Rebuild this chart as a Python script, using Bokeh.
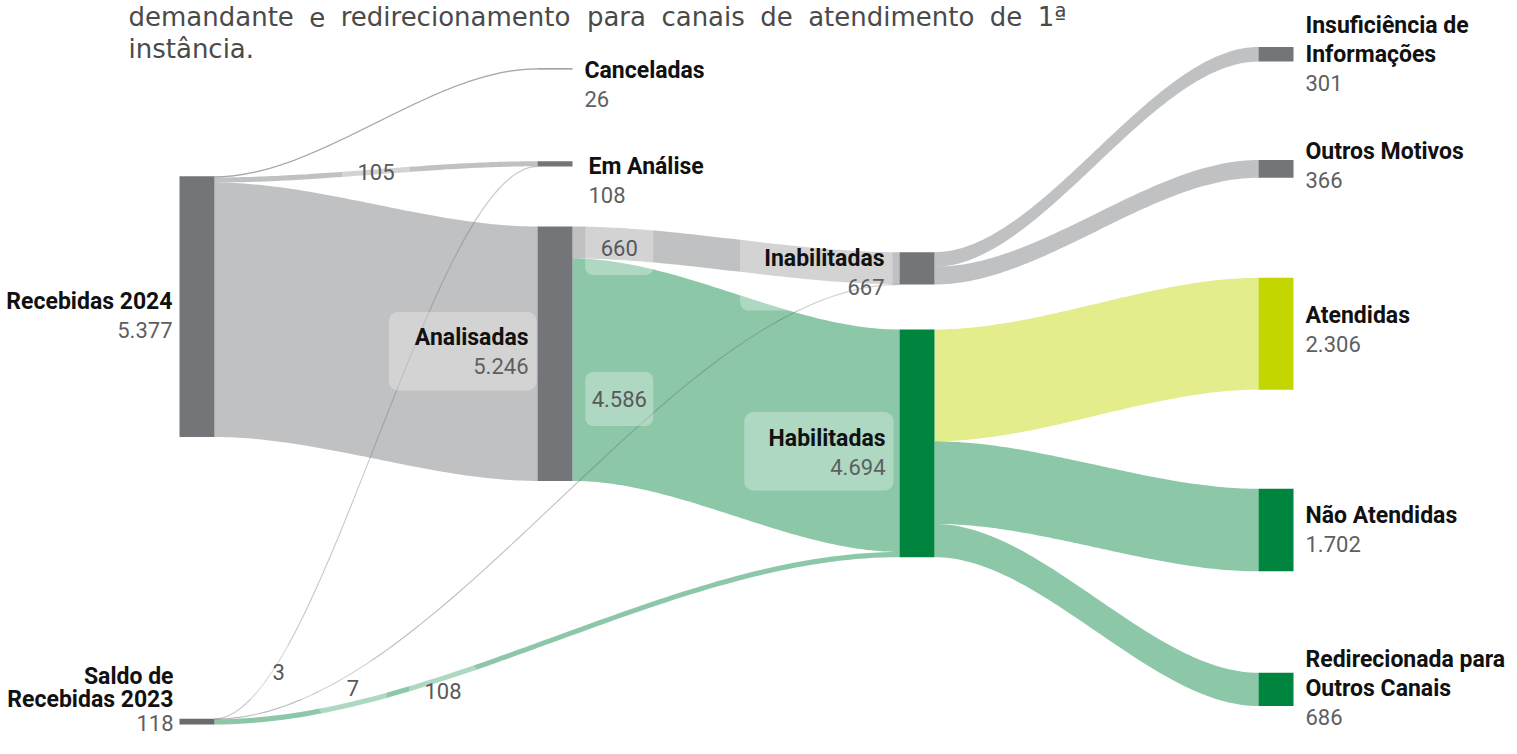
import numpy as np
from bokeh.plotting import figure
from bokeh.models import Range1d, ColumnDataSource
from bokeh.core.properties import value
from bokeh.embed import file_html
from bokeh.resources import INLINE

# ---------------- data ----------------
node_ids = ["rec24", "saldo23", "canc", "em_anal", "analisadas", "inab", "hab",
            "insuf", "outros", "atend", "nao_atend", "redir"]
node_names = ["Recebidas 2024", "Saldo de\nRecebidas 2023", "Canceladas", "Em Análise",
              "Analisadas", "Inabilitadas", "Habilitadas", "Insuficiência de\nInformações",
              "Outros Motivos", "Atendidas", "Não Atendidas", "Redirecionada para\nOutros Canais"]
node_values = [5377, 118, 26, 108, 5246, 667, 4694, 301, 366, 2306, 1702, 686]

link_source = ["rec24", "rec24", "rec24", "saldo23", "saldo23", "saldo23",
               "analisadas", "analisadas", "inab", "inab", "hab", "hab", "hab"]
link_target = ["canc", "em_anal", "analisadas", "em_anal", "inab", "hab",
               "inab", "hab", "insuf", "outros", "atend", "nao_atend", "redir"]
link_values = [26, 105, 5246, 3, 7, 108, 660, 4586, 301, 366, 2306, 1702, 686]
link_labeled = [False, True, False, True, True, True, True, True,
                False, False, False, False, False]

intro_line1 = ["demandante", "e", "redirecionamento", "para", "canais", "de",
               "atendimento", "de", "1ª"]
intro_line2 = "instância."

# ---------------- layout / style ----------------
GREY, GREEN, LIME = "#737578", "#00853f", "#c4d600"
node_color = {"rec24": GREY, "saldo23": "#6a6b6d", "canc": "#858688", "em_anal": GREY,
              "analisadas": GREY, "inab": GREY, "hab": GREEN, "insuf": GREY,
              "outros": GREY, "atend": LIME, "nao_atend": GREEN, "redir": GREEN}
col_x = [179, 537, 899, 1258]
node_col = {"rec24": 0, "saldo23": 0, "canc": 1, "em_anal": 1, "analisadas": 1,
            "inab": 2, "hab": 2, "insuf": 3, "outros": 3, "atend": 3,
            "nao_atend": 3, "redir": 3}
node_top = {"rec24": 175.7, "saldo23": 718.3, "canc": 67.7, "em_anal": 160.7,
            "analisadas": 226, "inab": 251.7, "hab": 329, "insuf": 46.5,
            "outros": 159.5, "atend": 277.3, "nao_atend": 488.3, "redir": 672.3}
NODE_W = 35
K = 0.0485          # px per unit
CURVE = 0.33
LINK_ALPHA = 0.45

# label placement: side ('L' = right-aligned left of node, 'R' = right of node), gap, dy, line height
label_side = {"rec24": ("L", 7, 9, 28.5), "saldo23": ("L", 6, -22, 23),
              "canc": ("R", 12, 16, 28.5), "em_anal": ("R", 16, 17, 28.5),
              "analisadas": ("L", 9, -1.5, 28.5), "inab": ("L", 15, 4, 28.5),
              "hab": ("L", 14, 9, 28.5), "insuf": ("R", 12, 0, 28.5),
              "outros": ("R", 12, -3, 28.5), "atend": ("R", 12, -4, 28.5),
              "nao_atend": ("R", 12, 0, 28.5), "redir": ("R", 12, -1, 28.5)}
boxed = {"analisadas", "inab", "hab"}
# link label placement: bezier parameter, dx, dy
link_label_pos = {1: (0.5, 0, 0), 3: (0.2, 0, 11), 4: (0.2, 2, 14), 5: (0.33, 3, 12),
                  6: (0.15, -2, 4), 7: (0.15, -2, 25)}

LABEL_FONT = value("Roboto")
FS_NAME, FS_VAL = "23px", "22px"


def fmt(v):
    return f"{v:,}".replace(",", ".")


def text_w(s, size, bold=False):
    w = 0.0
    for ch in s:
        if ch.isdigit():
            w += 0.562
        elif ch in ".,":
            w += 0.26
        elif ch == " ":
            w += 0.25
        elif ch in "iljI":
            w += 0.26
        elif ch in "tfr":
            w += 0.35
        elif ch.isupper():
            w += 0.66
        else:
            w += 0.54
    return w * size * (1.03 if bold else 1.0)


def bez(p0, p1, p2, p3, s):
    return ((1 - s) ** 3) * p0 + 3 * ((1 - s) ** 2) * s * p1 + 3 * (1 - s) * s * s * p2 + s ** 3 * p3


def rounded_rect(x0, y0, x1, y1, r):
    xs, ys = [], []
    corners = [(x1 - r, y0 + r, -np.pi / 2, 0), (x1 - r, y1 - r, 0, np.pi / 2),
               (x0 + r, y1 - r, np.pi / 2, np.pi), (x0 + r, y0 + r, np.pi, 1.5 * np.pi)]
    for cx, cy, a0, a1 in corners:
        a = np.linspace(a0, a1, 8)
        xs += list(cx + r * np.cos(a))
        ys += list(cy + r * np.sin(a))
    return xs, ys


val = dict(zip(node_ids, node_values))
name = dict(zip(node_ids, node_names))
h = {n: val[n] * K for n in node_ids}

# ---------------- link geometry ----------------
src_off = {n: node_top[n] for n in node_ids}
tgt_off = {n: node_top[n] for n in node_ids}
idx = list(range(len(link_values)))
src_y, tgt_y = {}, {}
for n in node_ids:
    outs = sorted([i for i in idx if link_source[i] == n], key=lambda i: node_top[link_target[i]])
    for i in outs:
        w = link_values[i] * K
        src_y[i] = (src_off[n], src_off[n] + w)
        src_off[n] += w
    ins = sorted([i for i in idx if link_target[i] == n], key=lambda i: node_top[link_source[i]])
    for i in ins:
        w = link_values[i] * K
        tgt_y[i] = (tgt_off[n], tgt_off[n] + w)
        tgt_off[n] += w

s = np.linspace(0, 1, 80)
lx, ly, lc = [], [], []
thin = dict(x0=[], y0=[], x1=[], y1=[], cx0=[], cy0=[], cx1=[], cy1=[], c=[])
lab = dict(x=[], y=[], t=[])
lab_boxes_x, lab_boxes_y = [], []
for i in idx:
    a, b = link_source[i], link_target[i]
    x0 = col_x[node_col[a]] + NODE_W
    x1 = col_x[node_col[b]]
    c = (x1 - x0) * CURVE
    sy0, sy1 = src_y[i]
    ty0, ty1 = tgt_y[i]
    topx = bez(x0, x0 + c, x1 - c, x1, s)
    topy = bez(sy0, sy0, ty0, ty0, s)
    botx = bez(x1, x1 - c, x0 + c, x0, s)
    boty = bez(ty1, ty1, sy1, sy1, s)
    col = node_color[b] if b != "canc" else GREY
    lx.append(list(topx) + list(botx))
    ly.append(list(topy) + list(boty))
    lc.append(col)
    if link_values[i] * K < 2:
        ym0, ym1 = (sy0 + sy1) / 2, (ty0 + ty1) / 2
        thin["x0"].append(x0); thin["y0"].append(ym0)
        thin["x1"].append(x1); thin["y1"].append(ym1)
        thin["cx0"].append(x0 + c); thin["cy0"].append(ym0)
        thin["cx1"].append(x1 - c); thin["cy1"].append(ym1)
        thin["c"].append(col)
    if link_labeled[i]:
        t, dx, dy = link_label_pos[i]
        ym0, ym1 = (sy0 + sy1) / 2, (ty0 + ty1) / 2
        px = bez(x0, x0 + c, x1 - c, x1, t) + dx
        py = bez(ym0, ym0, ym1, ym1, t) + dy
        lab["x"].append(px); lab["y"].append(py); lab["t"].append(fmt(link_values[i]))
        bx, by = rounded_rect(px - 34, py - 27, px + 34, py + 27, 8)
        lab_boxes_x.append(bx); lab_boxes_y.append(by)

# ---------------- figure ----------------
p = figure(width=1509, height=738, x_range=Range1d(0, 1509), y_range=Range1d(738, 0),
           output_backend="svg", toolbar_location=None, min_border=0,
           background_fill_color="white", border_fill_color="white")
p.outline_line_color = None
p.axis.visible = False
p.grid.visible = False

p.patches(lx, ly, fill_color=lc, fill_alpha=LINK_ALPHA, line_color=None)
p.bezier(x0="x0", y0="y0", x1="x1", y1="y1", cx0="cx0", cy0="cy0", cx1="cx1", cy1="cy1",
         line_color="c", line_alpha=0.35, line_width=1.2, source=ColumnDataSource(thin))

# nodes
nx0 = [col_x[node_col[n]] for n in node_ids]
p.quad(left=nx0, right=[x + NODE_W for x in nx0],
       top=[node_top[n] for n in node_ids],
       bottom=[node_top[n] + max(h[n], 1.3) for n in node_ids],
       fill_color=[node_color[n] for n in node_ids], line_color=None)

# node labels
nm = dict(x=[], y=[], t=[], a=[])
vl = dict(x=[], y=[], t=[], a=[])
box_x, box_y = [], []
for n in node_ids:
    side, gap, dy, lh = label_side[n]
    lines = name[n].split("\n")
    allines = lines + [fmt(val[n])]
    cy = node_top[n] + h[n] / 2 + dy
    nl = len(allines)
    ys = [cy + (j - (nl - 1) / 2) * lh for j in range(nl)]
    if side == "L":
        x = col_x[node_col[n]] - gap
        al = "right"
    else:
        x = col_x[node_col[n]] + NODE_W + gap
        al = "left"
    for j, ln in enumerate(lines):
        nm["x"].append(x); nm["y"].append(ys[j]); nm["t"].append(ln); nm["a"].append(al)
    vl["x"].append(x); vl["y"].append(ys[-1]); vl["t"].append(allines[-1]); vl["a"].append(al)
    if n in boxed:
        wmax = max(text_w(ln, 23, True) for ln in allines)
        bx, by = rounded_rect(x - wmax - 22, ys[0] - 26, x + 8, ys[-1] + 24, 9)
        box_x.append(bx); box_y.append(by)

p.patches(box_x + lab_boxes_x, box_y + lab_boxes_y, fill_color="white", fill_alpha=0.3,
          line_color=None)

p.text(x="x", y="y", text="t", text_align="a", source=ColumnDataSource(nm),
       text_font=LABEL_FONT, text_font_size=FS_NAME, text_font_style="bold",
       text_baseline="middle", text_color="#111111")
p.text(x="x", y="y", text="t", text_align="a", source=ColumnDataSource(vl),
       text_font=LABEL_FONT, text_font_size=FS_VAL, text_baseline="middle",
       text_color="#5e5f61")
p.text(x="x", y="y", text="t", source=ColumnDataSource(lab),
       text_font=LABEL_FONT, text_font_size="22px", text_align="center",
       text_baseline="middle", text_color="#58595b")

# intro paragraph (justified first line)
DV = {"a": .613, "c": .550, "d": .635, "e": .615, "i": .278, "m": .974, "n": .634,
      "o": .612, "p": .635, "r": .411, "s": .521, "t": .392, "1": .636, "ª": .471,
      "â": .613, ".": .318}
PFS = 26
L0, R0 = 128, 1066
wws = [sum(DV.get(ch, .6) for ch in wd) * PFS for wd in intro_line1]
gapw = (R0 - L0 - sum(wws)) / (len(intro_line1) - 1)
wx, cur = [], L0
for wv in wws:
    wx.append(cur)
    cur += wv + gapw
p.text(x=wx, y=[16] * len(wx), text=intro_line1, text_font=value("DejaVu Sans"),
       text_font_size=f"{PFS}px", text_baseline="alphabetic", text_color="#4a4a4a")
p.text(x=[L0], y=[48], text=[intro_line2], text_font=value("DejaVu Sans"),
       text_font_size=f"{PFS}px", text_baseline="alphabetic", text_color="#4a4a4a")

open("out.html", "w").write(file_html(p, INLINE))
